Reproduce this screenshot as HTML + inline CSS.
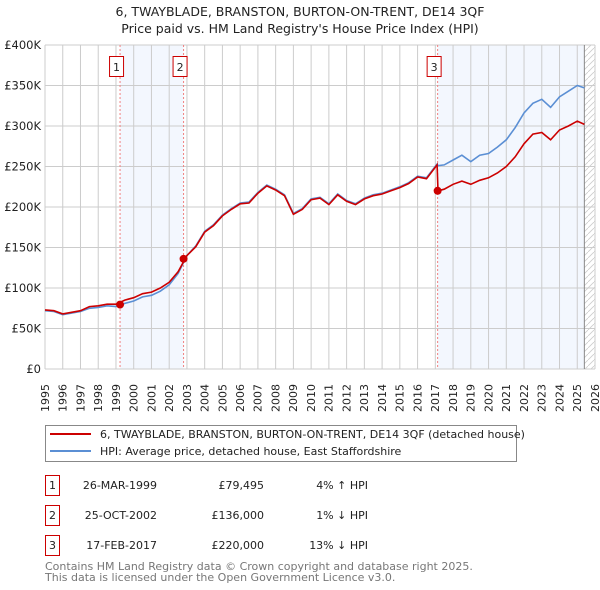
<!DOCTYPE html>
<html><head><meta charset="utf-8"><style>
body{margin:0;background:#fff;width:600px;height:590px;overflow:hidden;font-family:"DejaVu Sans","Liberation Sans",sans-serif;}
svg{display:block}
</style></head><body>
<svg id="chart" width="600" height="590" xmlns="http://www.w3.org/2000/svg" font-family="DejaVu Sans, Liberation Sans, sans-serif">
<text x="300" y="16" text-anchor="middle" font-size="12.5" fill="#222">6, TWAYBLADE, BRANSTON, BURTON-ON-TRENT, DE14 3QF</text>
<text x="300" y="33" text-anchor="middle" font-size="12.5" fill="#222">Price paid vs. HM Land Registry's House Price Index (HPI)</text>
<defs><pattern id="hatch" width="6" height="6" patternUnits="userSpaceOnUse"><path d="M0,6 L6,0" stroke="#ccc" stroke-width="0.8"/></pattern></defs>
<g id="plot"></g>
<g>
<rect x="45.5" y="425.5" width="471" height="36" fill="#fff" stroke="#888"/>
<line x1="50" y1="434" x2="91" y2="434" stroke="#cc0000" stroke-width="2"/>
<text x="100" y="438" font-size="11" fill="#222">6, TWAYBLADE, BRANSTON, BURTON-ON-TRENT, DE14 3QF (detached house)</text>
<line x1="50" y1="451" x2="91" y2="451" stroke="#5b8fd4" stroke-width="2"/>
<text x="100" y="455" font-size="11" fill="#222">HPI: Average price, detached house, East Staffordshire</text>
</g>
<g font-size="11" fill="#222">
<rect x="45.5" y="475.5" width="14" height="20" fill="#fff" stroke="#cc0000"/><text x="52.5" y="489" text-anchor="middle">1</text>
<text x="157" y="489" text-anchor="end">26-MAR-1999</text><text x="264" y="489" text-anchor="end">£79,495</text><text x="368" y="489" text-anchor="end">4% ↑ HPI</text>
<rect x="45.5" y="505.5" width="14" height="20" fill="#fff" stroke="#cc0000"/><text x="52.5" y="519" text-anchor="middle">2</text>
<text x="157" y="519" text-anchor="end">25-OCT-2002</text><text x="264" y="519" text-anchor="end">£136,000</text><text x="368" y="519" text-anchor="end">1% ↓ HPI</text>
<rect x="45.5" y="535.5" width="14" height="20" fill="#fff" stroke="#cc0000"/><text x="52.5" y="549" text-anchor="middle">3</text>
<text x="157" y="549" text-anchor="end">17-FEB-2017</text><text x="264" y="549" text-anchor="end">£220,000</text><text x="368" y="549" text-anchor="end">13% ↓ HPI</text>
</g>
<text x="45" y="570" font-size="11" fill="#777">Contains HM Land Registry data © Crown copyright and database right 2025.</text>
<text x="45" y="581" font-size="11" fill="#777">This data is licensed under the Open Government Licence v3.0.</text>
</svg>
<script>
const years = [1995,1995.5,1996,1996.5,1997,1997.5,1998,1998.5,1999,1999.5,2000,2000.5,2001,2001.5,2002,2002.5,2003,2003.5,2004,2004.5,2005,2005.5,2006,2006.5,2007,2007.5,2008,2008.5,2009,2009.5,2010,2010.5,2011,2011.5,2012,2012.5,2013,2013.5,2014,2014.5,2015,2015.5,2016,2016.5,2017.1,2017.15,2017.5,2018,2018.5,2019,2019.5,2020,2020.5,2021,2021.5,2022,2022.5,2023,2023.5,2024,2024.5,2025,2025.4];
const hpiValues = [72,71,67,69,71,75,76,78,77,81,84,89,91,96,104,118,140,152,170,178,190,198,205,206,218,227,222,215,192,198,210,212,204,216,208,204,211,215,217,221,225,230,238,236,253,251,252,258,264,256,264,266,274,283,298,316,328,333,323,336,343,350,347];
const priceValues = [73,72,68,70,72,77,78,80,80,85,88,93,95,100,107,120,140,151,169,177,189,197,204,205,217,226,221,214,191,197,209,211,203,215,207,203,210,214,216,220,224,229,237,235,252,220,222,228,232,228,233,236,242,250,262,278,290,292,283,295,300,306,302];
const saleYears = [1999.23,2002.81,2017.13];
const salePrices = [79.495,136,220];
const yTicks = [0,50,100,150,200,250,300,350,400];
const yTickLabels = ["£0","£50K","£100K","£150K","£200K","£250K","£300K","£350K","£400K"];
const xTickYears = [1995,1996,1997,1998,1999,2000,2001,2002,2003,2004,2005,2006,2007,2008,2009,2010,2011,2012,2013,2014,2015,2016,2017,2018,2019,2020,2021,2022,2023,2024,2025,2026];
const NS="http://www.w3.org/2000/svg";
const X0=45,X1=595,Y0=369,Y1=45;
function xs(y){return X0+(y-1995)/31*(X1-X0);}
function ys(v){return Y0-v/400*(Y0-Y1);}
const g=document.getElementById('plot');
function mk(t,a){const e=document.createElementNS(NS,t);for(const k in a)e.setAttribute(k,a[k]);g.appendChild(e);return e;}
let bg=mk('rect',{x:X0,y:Y1,width:X1-X0,height:Y0-Y1,fill:'#fff'});


let s1=mk('rect',{x:xs(saleYears[0]),y:Y1,width:xs(saleYears[1])-xs(saleYears[0]),height:Y0-Y1,fill:'#f3f7fe'});


let s2=mk('rect',{x:xs(saleYears[2]),y:Y1,width:xs(2025.4)-xs(saleYears[2]),height:Y0-Y1,fill:'#f3f7fe'});


let h=mk('rect',{x:xs(2025.4),y:Y1,width:X1-xs(2025.4),height:Y0-Y1,fill:'url(#hatch)'});


xTickYears.forEach(yr=>{
 const l=mk('line',{x1:xs(yr),x2:xs(yr),y1:Y1,y2:Y0,stroke:'#ccc','stroke-width':1});
 
 
 const t=mk('text',{x:xs(yr),y:384,'font-size':11,fill:'#222',transform:`rotate(-90 ${xs(yr)} 384)`,dy:'0.35em','text-anchor':'end'});
 t.textContent=yr;
 
 
});
yTicks.forEach((v,i)=>{
 const l=mk('line',{x1:X0,x2:X1,y1:ys(v),y2:ys(v),stroke:'#ccc','stroke-width':1});
 
 
 const t=mk('text',{x:41,y:ys(v)+4,'text-anchor':'end','font-size':11.5,fill:'#222'});
 t.textContent=yTickLabels[i];
 
 
});
let fl=mk('line',{x1:xs(2025.4),x2:xs(2025.4),y1:Y1,y2:Y0,stroke:'#888','stroke-width':1});


saleYears.forEach((yr,i)=>{
 const l=mk('line',{x1:xs(yr),x2:xs(yr),y1:Y1,y2:Y0,stroke:'#f08080','stroke-width':1,'stroke-dasharray':'2,2'});
 
 
 const r=mk('rect',{x:xs(yr)-10.5,y:56.5,width:14,height:20,fill:'#fff',stroke:'#cc0000'});
 
 
 const t=mk('text',{x:xs(yr)-3.5,y:71,'text-anchor':'middle','font-size':11,fill:'#222'});
 t.textContent=String(i+1);
 
 
});
function pts(vals){return years.map((y,i)=>xs(y).toFixed(1)+','+ys(vals[i]).toFixed(1)).join(' ');}
let hl=mk('polyline',{points:pts(hpiValues),fill:'none',stroke:'#5b8fd4','stroke-width':1.6});


let pl=mk('polyline',{points:pts(priceValues),fill:'none',stroke:'#cc0000','stroke-width':1.6});


saleYears.forEach((yr,i)=>{
 const c=mk('circle',{cx:xs(yr),cy:ys(salePrices[i]),r:4,fill:'#cc0000'});
 
 
});
</script>
</body></html>
